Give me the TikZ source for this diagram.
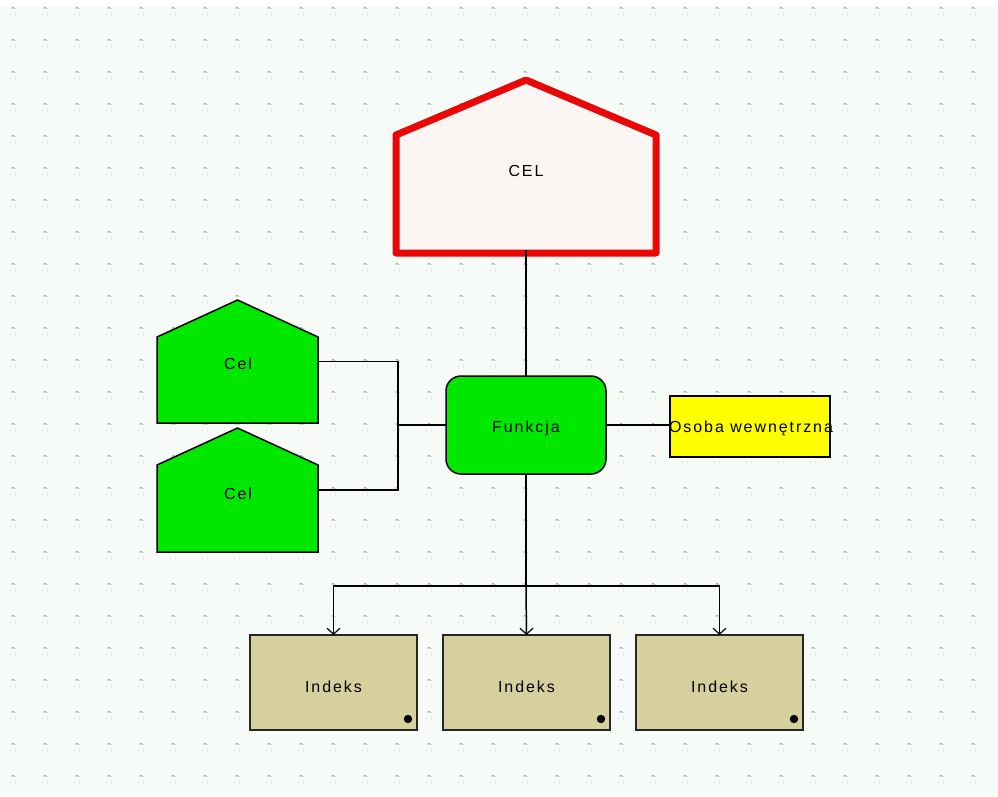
\documentclass[tikz,border=0pt]{standalone}
\usepackage{fontspec}
\newfontfamily\lblfont{Liberation Sans}[LetterSpace=12]
\usetikzlibrary{arrows.meta,calc}
\pgfdeclarelayer{bgl}
\pgfdeclarelayer{shp}
\pgfsetlayers{bgl,shp,main}
\definecolor{mint}{RGB}{247,251,247}
\definecolor{gridc}{RGB}{160,165,160}
\definecolor{celred}{RGB}{232,8,8}
\definecolor{celfill}{RGB}{251,246,243}
\definecolor{fgreen}{RGB}{0,232,0}
\definecolor{fyellow}{RGB}{255,255,0}
\definecolor{ftan}{RGB}{214,207,158}
\begin{document}
\begin{tikzpicture}[x=1pt,y=-1pt,
  lbl/.style={font=\lblfont\fontsize{16}{18}\selectfont, inner sep=0pt, outer sep=0pt},
  conn/.style={line width=1.5pt, black},
  arr/.style={conn, -{Straight Barb[length=6pt,width=13pt,line width=1.2pt]}},
  bigcel/.style={draw=celred, line width=7pt, fill=celfill, line join=round},
  smallcel/.style={draw=black, line width=1.5pt, fill=fgreen},
  funbox/.style={lbl, draw=black, line width=1.5pt, fill=fgreen, rounded corners=15pt, minimum width=160pt, minimum height=98pt},
  orgbox/.style={lbl, draw=black, line width=1.5pt, fill=fyellow, minimum width=160pt, minimum height=61pt},
  idxbox/.style={lbl, draw=black!85, line width=2pt, fill=ftan, minimum width=167pt, minimum height=95pt}
]
\useasboundingbox (0,0) rectangle (998,796);
\begin{pgfonlayer}{bgl}
  \fill[white] (0,0) rectangle (998,796);
  \fill[mint] (0,6) rectangle (998,796);
  \foreach \gx in {13,45,...,990} {
    \foreach \gy in {8,40,...,790} {
      \fill[gridc] (\gx-0.9,\gy-0.9) rectangle (\gx+0.9,\gy+0.9);
      \draw[gridc!45,line width=0.5pt] (\gx-2.5,\gy) -- (\gx+2.5,\gy);
      \draw[gridc!30,line width=0.5pt] (\gx-3,\gy+4) -- (\gx-3,\gy+9) (\gx+3,\gy+4) -- (\gx+2,\gy+9);
    }
  }
\end{pgfonlayer}

% big CEL
\node[lbl, minimum width=260pt, minimum height=173pt] (cel) at (526,166.5) {};
\node[lbl] (celt) at (526,171) {CEL};
% small Cel
\node[lbl, minimum width=161pt, minimum height=123pt] (c1) at (237.5,361.5) {};
\node[lbl] (c1t) at (238,364) {Cel};
\node[lbl, minimum width=161pt, minimum height=124pt] (c2) at (237.5,490) {};
\node[lbl] (c2t) at (238,494) {Cel};
% Funkcja
\node[funbox] (fun) at (526,425) {};
\node[lbl] (funt) at (526,428) {Funkcja};
% Osoba
\node[orgbox] (ow) at (750,426.5) {};
\node[lbl] (owt) at (751,428.5) {Osoba wewnętrzna};
% Indeks
\node[idxbox] (i1) at (333.5,682.5) {};
\node[idxbox] (i2) at (526.5,682.5) {};
\node[idxbox] (i3) at (719.5,682.5) {};
\foreach \n in {i1,i2,i3} {
  \node[lbl] at ($(\n.center)+(0,4)$) {Indeks};
  \fill[black] ($(\n.south east)+(-9,-11)$) circle (4.2pt);
}

\begin{pgfonlayer}{shp}
  \draw[bigcel] (cel.south west) -- (cel.south east) -- ($(cel.north east)+(0,55)$) -- (cel.north) -- ($(cel.north west)+(0,55)$) -- cycle;
  \draw[smallcel] (c1.south west) -- (c1.south east) -- ($(c1.north east)+(0,37)$) -- (c1.north) -- ($(c1.north west)+(0,37)$) -- cycle;
  \draw[smallcel] (c2.south west) -- (c2.south east) -- ($(c2.north east)+(0,37)$) -- (c2.north) -- ($(c2.north west)+(0,37)$) -- cycle;
\end{pgfonlayer}

% connectors
\coordinate (j) at (398,425);
\coordinate (bus) at (526,586);
\draw[conn] ([yshift=3.5pt]cel.south) -- (fun.north);
\draw[conn] (c1.east) -- (398,361.5) -- (398,490) -- (c2.east);
\draw[conn] (fun.west) -- (j);
\draw[conn] (fun.east) -- (fun.east -| ow.west);
\draw[conn] (fun.south) -- (bus);
\draw[arr] (bus) -| (i1.north);
\draw[arr] (bus) -- (i2.north);
\draw[arr] (bus) -| (i3.north);
\end{tikzpicture}
\end{document}
